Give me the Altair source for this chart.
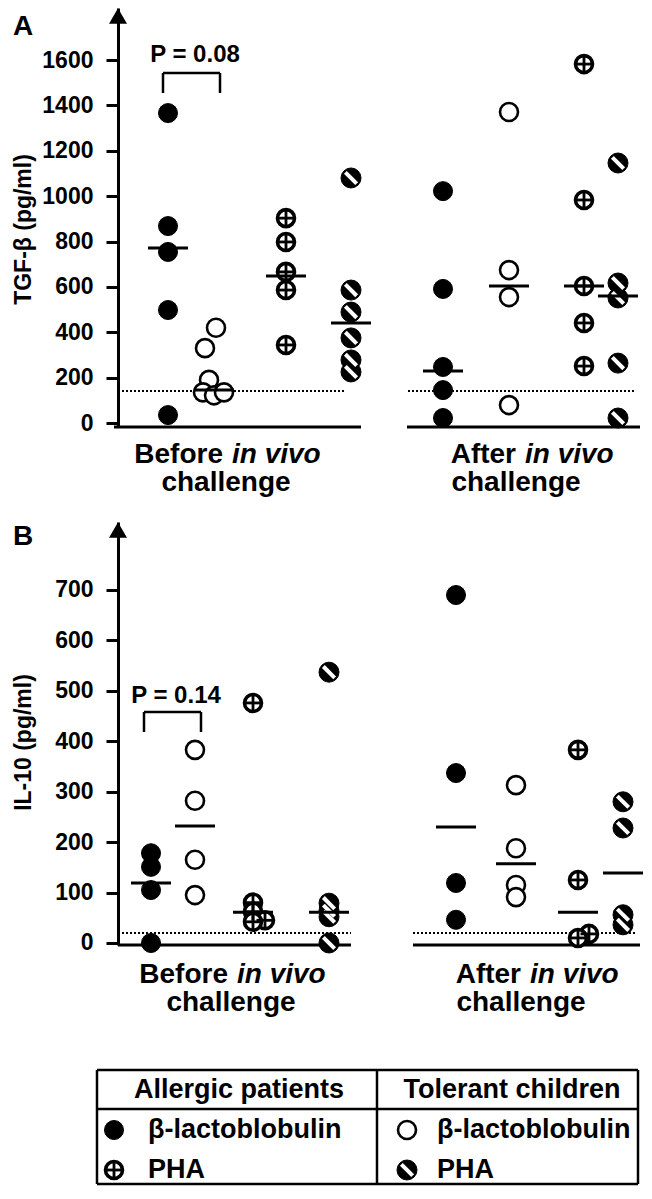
import altair as alt
import pandas as pd

# ---------------- values ----------------
CONDITIONS = ["Before", "After"]
SERIES = ["AB", "TB", "AP", "TP"]  # Allergic β-lg, Tolerant β-lg, Allergic PHA, Tolerant PHA

# Panel A: TGF-β (pg/ml)
tgf_before_allergic_blg = [1366, 868, 754, 498, 35]
tgf_before_tolerant_blg = [420, 330, 190, 135, 122, 135]
tgf_before_allergic_pha = [903, 798, 666, 586, 344]
tgf_before_tolerant_pha = [1080, 586, 489, 375, 278, 225]
tgf_after_allergic_blg = [1022, 591, 247, 145, 22]
tgf_after_tolerant_blg = [1371, 674, 555, 79]
tgf_after_allergic_pha = [1582, 983, 604, 441, 251]
tgf_after_tolerant_pha = [1146, 617, 551, 264, 22]
tgf_medians_before = [771, 145, 648, 441]
tgf_medians_after = [229, 604, 604, 560]
tgf_detection_limit = 141
tgf_ticks = [0, 200, 400, 600, 800, 1000, 1200, 1400, 1600]

# Panel B: IL-10 (pg/ml)
il10_before_allergic_blg = [178, 151, 105, 0]
il10_before_tolerant_blg = [383, 282, 165, 95]
il10_before_allergic_pha = [476, 80, 62, 45, 42]
il10_before_tolerant_pha = [537, 79, 64, 52, 0]
il10_after_allergic_blg = [690, 337, 119, 46]
il10_after_tolerant_blg = [313, 188, 115, 91]
il10_after_allergic_pha = [383, 125, 18, 10]
il10_after_tolerant_pha = [280, 228, 56, 36]
il10_medians_before = [119, 232, 61, 61]
il10_medians_after = [230, 157, 61, 139]
il10_detection_limit = 20
il10_ticks = [0, 100, 200, 300, 400, 500, 600, 700]

p_value_a = "P = 0.08"
p_value_b = "P = 0.14"

# ---------------- layout (pixels / positions) ----------------
FONT = "Liberation Sans"
W = 522
SPACING = 95
A_H, A_DOM = 419, [-17.6, 1829.2]
B_H, B_DOM = 423, [-3.97, 834.8]
L_H = 146
LETTER_X = -105

COLS = {
    "A": {"Before": [50, 96, 168, 233], "After": [325, 391, 466, 500]},
    "B": {"Before": [33, 77, 135, 211], "After": [338, 398, 460, 505]},
}
DODGE = {
    "A": {("Before", 1): [2, -9, -5, -11, 0, 10]},
    "B": {("Before", 2): [0, 0, 0, 12, 0], ("After", 2): [0, 0, 11, 0]},
}


def val(dom, h, gy):
    """value of the y scale at a group pixel row gy"""
    return dom[1] - gy * (dom[1] - dom[0]) / h


def points_frame(panel, data):
    rows = []
    for cond in CONDITIONS:
        for si, s in enumerate(SERIES):
            vals = data[cond][si]
            offs = DODGE[panel].get((cond, si), [0] * len(vals))
            for v_, o in zip(vals, offs):
                rows.append({"s": s, "x": COLS[panel][cond][si] + o, "y": v_})
    return pd.DataFrame(rows)


def symbol_layers(df, X, Y):
    enc = dict(x=X, y=Y)

    def f(code):
        return alt.Chart(df).transform_filter(alt.datum.s == code)

    return [
        f("AB").mark_point(shape="circle", filled=True, fill="black", stroke="black",
                           strokeWidth=1, size=361, opacity=1).encode(**enc),
        f("TB").mark_point(shape="circle", filled=True, fill="white", stroke="black",
                           strokeWidth=2.6, size=324, opacity=1).encode(**enc),
        f("AP").mark_point(shape="circle", filled=True, fill="white", stroke="black",
                           strokeWidth=3.6, size=289, opacity=1).encode(**enc),
        f("AP").mark_point(shape="stroke", filled=False, stroke="black",
                           strokeWidth=2.8, size=289, opacity=1).encode(**enc),
        f("AP").mark_point(shape="stroke", angle=90, filled=False, stroke="black",
                           strokeWidth=2.8, size=289, opacity=1).encode(**enc),
        f("TP").mark_point(shape="circle", filled=True, fill="black", stroke="black",
                           strokeWidth=1, size=400, opacity=1).encode(**enc),
        f("TP").mark_point(shape="stroke", angle=45, filled=False, stroke="white",
                           strokeWidth=4, size=256, opacity=1).encode(**enc),
    ]


def panel(pid, data, medians, limit, dom, h, ticks, title, tpad, title_y,
          base_segs, dot_segs, bracket, ptext, pval, label_shift, letter_base):
    xs = alt.Scale(domain=[0, W], nice=False, zero=False)
    ys = alt.Scale(domain=dom, nice=False, zero=False)
    axis = alt.Axis(values=ticks, format="d", grid=False, domainColor="black", domainWidth=3,
                    tickColor="black", tickWidth=3, tickSize=12,
                    labelFont=FONT, labelFontSize=23, labelFontWeight="bold",
                    labelColor="black", labelPadding=13, labelOverlap=False,
                    title=title, titleFont=FONT, titleFontSize=23,
                    titleFontWeight="bold", titleColor="black", titlePadding=tpad,
                    titleY=title_y)
    X = alt.X("x:Q", scale=xs, axis=None)
    Y = alt.Y("y:Q", scale=ys, axis=axis)

    pts = points_frame(pid, data)
    med = pd.DataFrame({"x": COLS[pid]["Before"] + COLS[pid]["After"],
                        "y": medians["Before"] + medians["After"]})

    base = pd.DataFrame({"x": [s[0] for s in base_segs], "x2": [s[1] for s in base_segs],
                         "y": [dom[0]] * len(base_segs)})
    dots = pd.DataFrame({"x": [s[0] for s in dot_segs], "x2": [s[1] for s in dot_segs],
                         "y": [limit] * len(dot_segs)})
    bx1, bx2, byt, byb = bracket
    br = pd.DataFrame({"x": [bx1, bx1, bx2], "x2": [bx2, bx1, bx2],
                       "y": [byt, byt, byt], "y2": [byt, byb, byb]})
    arrow = pd.DataFrame({"x": [0], "y": [val(dom, h, 8)]})

    layers = [
        alt.Chart(base).mark_rule(color="black", strokeWidth=3).encode(
            x=X, x2="x2:Q", y=Y),
        alt.Chart(dots).mark_rule(color="black", strokeWidth=2, strokeDash=[2, 2]).encode(
            x=X, x2="x2:Q", y=Y),
        alt.Chart(br).mark_rule(color="black", strokeWidth=2.5).encode(
            x=X, x2="x2:Q", y=Y, y2="y2:Q"),
        alt.Chart(arrow).mark_point(shape="triangle-up", filled=True, fill="black",
                                    strokeWidth=0, size=324, opacity=1).encode(x=X, y=Y),
    ]
    layers += symbol_layers(pts, X, Y)
    layers.append(alt.Chart(med).mark_tick(orient="horizontal", size=40, thickness=3,
                                           color="black", opacity=1).encode(x=X, y=Y))

    # p-value text
    ptx, pty = ptext
    layers.append(alt.Chart(pd.DataFrame({"x": [ptx], "y": [pty], "t": [pval]})).mark_text(
        font=FONT, fontSize=24, fontWeight="bold", color="black", align="center",
        baseline="alphabetic").encode(x=X, y=Y, text="t:N"))

    # panel letter
    layers.append(alt.Chart(pd.DataFrame({"x": [LETTER_X], "y": [val(dom, h, letter_base)],
                                          "t": [pid]})).mark_text(
        font=FONT, fontSize=28, fontWeight="bold", color="black", align="left",
        baseline="alphabetic").encode(x=X, y=Y, text="t:N"))

    # group labels
    s = label_shift
    y1 = val(dom, h, (455 if pid == "A" else 461))
    y2 = val(dom, h, (483 if pid == "A" else 489))
    lab1 = pd.DataFrame({"x": [105 + s, 398 + s], "y": [y1, y1], "t": ["Before", "After"]})
    lab2 = pd.DataFrame({"x": [114 + s, 407 + s], "y": [y1, y1], "t": ["in vivo", "in vivo"]})
    lab3 = pd.DataFrame({"x": [108 + s, 398 + s], "y": [y2, y2], "t": ["challenge", "challenge"]})
    tk = dict(font=FONT, fontSize=28, fontWeight="bold", color="black", baseline="alphabetic")
    layers.append(alt.Chart(lab1).mark_text(align="right", **tk).encode(x=X, y=Y, text="t:N"))
    layers.append(alt.Chart(lab2).mark_text(align="left", fontStyle="italic", **tk).encode(
        x=X, y=Y, text="t:N"))
    layers.append(alt.Chart(lab3).mark_text(align="center", **tk).encode(x=X, y=Y, text="t:N"))

    return alt.layer(*layers).properties(width=W, height=h)


data_a = {
    "Before": [tgf_before_allergic_blg, tgf_before_tolerant_blg,
               tgf_before_allergic_pha, tgf_before_tolerant_pha],
    "After": [tgf_after_allergic_blg, tgf_after_tolerant_blg,
              tgf_after_allergic_pha, tgf_after_tolerant_pha],
}
data_b = {
    "Before": [il10_before_allergic_blg, il10_before_tolerant_blg,
               il10_before_allergic_pha, il10_before_tolerant_pha],
    "After": [il10_after_allergic_blg, il10_after_tolerant_blg,
              il10_after_allergic_pha, il10_after_tolerant_pha],
}

chart_a = panel("A", data_a, {"Before": tgf_medians_before, "After": tgf_medians_after},
                tgf_detection_limit, A_DOM, A_H, tgf_ticks, "TGF-β (pg/ml)", 6, 221,
                base_segs=[(-4, 243), (289, W)], dot_segs=[(4, 228), (290, W - 4)],
                bracket=(45, 102, val(A_DOM, A_H, 65), val(A_DOM, A_H, 85)),
                ptext=(77, val(A_DOM, A_H, 54)), pval=p_value_a, label_shift=0,
                letter_base=27)

chart_b = panel("B", data_b, {"Before": il10_medians_before, "After": il10_medians_after},
                il10_detection_limit, B_DOM, B_H, il10_ticks, "IL-10 (pg/ml)", 19, 220,
                base_segs=[(0, 233), (295, W)], dot_segs=[(4, 233), (295, W - 4)],
                bracket=(26, 83, val(B_DOM, B_H, 190), val(B_DOM, B_H, 210)),
                ptext=(58, val(B_DOM, B_H, 181)), pval=p_value_b, label_shift=5,
                letter_base=23)

# ---------------- legend table ----------------
LX = alt.X("x:Q", scale=alt.Scale(domain=[0, W], nice=False, zero=False), axis=None)
LY = alt.Y("y:Q", scale=alt.Scale(domain=[0, L_H], nice=False, zero=False, reverse=True), axis=None)

BOX_L, BOX_R, BOX_T, BOX_B, HEAD, DIV = -21, 520, 30, 144, 69, 259
legend_lines = pd.DataFrame({
    "x":  [BOX_L, BOX_L, BOX_L, BOX_R, BOX_L, DIV],
    "x2": [BOX_R, BOX_R, BOX_L, BOX_R, BOX_R, DIV],
    "y":  [BOX_T, BOX_B, BOX_T, BOX_T, HEAD, BOX_T],
    "y2": [BOX_T, BOX_B, BOX_B, BOX_B, HEAD, BOX_B],
})
legend_headers = pd.DataFrame({"x": [121, 394], "y": [50, 50],
                               "t": ["Allergic  patients", "Tolerant children"]})
legend_syms = pd.DataFrame({"s": ["AB", "AP", "TB", "TP"],
                            "x": [-4, -4, 289, 289], "y": [90, 130, 90, 130]})
legend_texts = pd.DataFrame({"x": [30, 30, 319, 319], "y": [90, 130, 90, 130],
                             "t": ["β-lactoblobulin", "PHA", "β-lactoblobulin", "PHA"]})

leg_layers = [
    alt.Chart(legend_lines).mark_rule(color="black", strokeWidth=2.5).encode(
        x=LX, x2="x2:Q", y=LY, y2="y2:Q"),
    alt.Chart(legend_headers).mark_text(font=FONT, fontSize=27, fontWeight="bold",
                                        color="black", align="center", baseline="middle").encode(
        x=LX, y=LY, text="t:N"),
    alt.Chart(legend_texts).mark_text(font=FONT, fontSize=27, fontWeight="bold",
                                      color="black", align="left", baseline="middle").encode(
        x=LX, y=LY, text="t:N"),
]
leg_layers += symbol_layers(legend_syms, LX, LY)
legend = alt.layer(*leg_layers).properties(width=W, height=L_H)

chart = alt.vconcat(chart_a, chart_b, legend, spacing=SPACING, bounds="flush").properties(
    padding={"left": 4, "top": 0, "right": 0, "bottom": 0}
).configure_view(stroke=None)

chart.save("out.html", embed_options={"renderer": "svg", "actions": False})
